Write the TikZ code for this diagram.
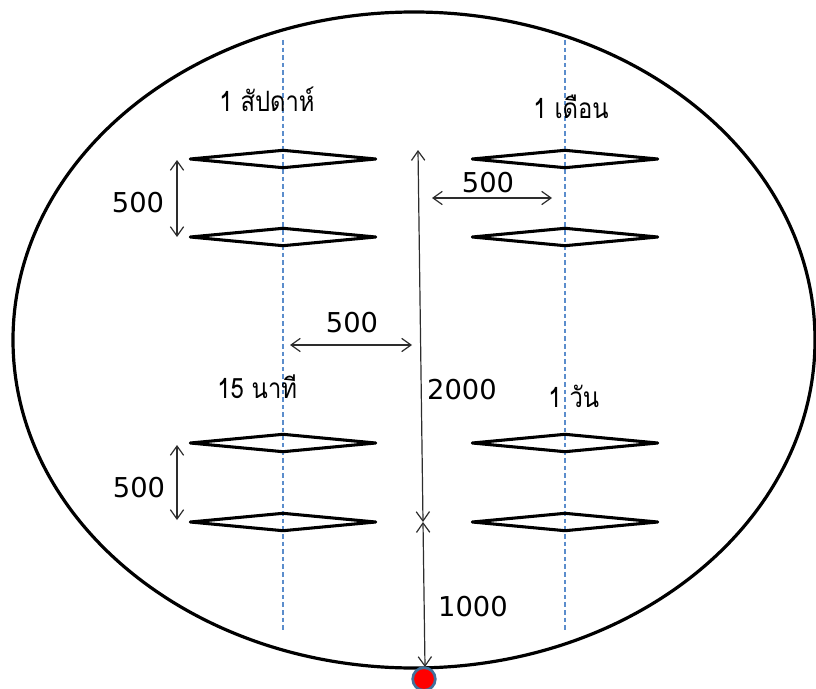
\documentclass[tikz,border=0pt]{standalone}
\usepackage{fontspec}
\setmainfont{DejaVu Sans}
\newfontfamily\thaifont[Script=Thai,FakeStretch=0.85]{Loma}
\usetikzlibrary{shapes.geometric,arrows.meta}
\definecolor{guideblue}{RGB}{91,141,204}
\definecolor{rimblue}{RGB}{65,113,156}
\definecolor{dimgray}{RGB}{45,45,45}

\begin{document}
\begin{tikzpicture}[x=0.75pt,y=-0.75pt,
    flake/.style={draw,shape=diamond,line width=2.3pt,line join=round,inner sep=0pt,minimum width=140pt,minimum height=14pt},
    guide/.style={guideblue,line width=1pt,dash pattern=on 3.5pt off 2.2pt},
    dim/.style={dimgray,line width=0.9pt,{Straight Barb[length=7pt,width=10pt]}-{Straight Barb[length=7pt,width=10pt]}},
    num/.style={font=\fontsize{20.5}{24}\selectfont},
    tlabel/.style={anchor=base west,inner sep=0pt,font=\thaifont\fontsize{21}{24}\selectfont}]
  \useasboundingbox (0,0) rectangle (816,688);
  % outer boundary and the marker at its foot
  \draw[line width=2.4pt] (414,340) ellipse (401 and 328);
  \node[circle,fill=red,draw=rimblue,line width=2pt,minimum size=17pt,inner sep=0pt] (dot) at (424,679) {};
  % column guides
  \foreach \x in {283,565} \draw[guide] (\x,40) -- (\x,630);
  % the four pairs
  \node[flake] (w1) at (283,159) {};
  \node[flake] (w2) at (283,237) {};
  \node[flake] (m1) at (565,159) {};
  \node[flake] (m2) at (565,237) {};
  \node[flake] (q1) at (283,443) {};
  \node[flake] (q2) at (283,522) {};
  \node[flake] (d1) at (565,443) {};
  \node[flake] (d2) at (565,522) {};
  \node[tlabel] (wk) at (219,112) {1 สัปดาห์};
  \node[tlabel] (mo) at (533,118) {1 เดือน};
  \node[tlabel] (qt) at (217,398) {15 นาที};
  \node[tlabel] (dy) at (548,407) {1 วัน};
  % dimension lines
  \coordinate (wa) at (177,160); \coordinate (wb) at (177,237);
  \coordinate (qa) at (177,445); \coordinate (qb) at (177,520);
  \coordinate (ha) at (432,198); \coordinate (hb) at (552,198);
  \coordinate (ma) at (290,345); \coordinate (mb) at (412,345);
  \coordinate (top) at (418,150); \coordinate (mid) at (423,522);
  \coordinate (foot) at (425,667);
  \draw[dim] (wa) -- (wb);
  \draw[dim] (qa) -- (qb);
  \draw[dim] (ha) -- (hb);
  \draw[dim] (ma) -- (mb);
  \draw[dim] (top) -- (mid);
  \draw[dim] (mid) -- (foot);
  \node[num] at (138,203) {500};
  \node[num] at (139,488) {500};
  \node[num] at (488,183) {500};
  \node[num] at (352,323) {500};
  \node[num] at (462,390) {2000};
  \node[num] at (473,607) {1000};
\end{tikzpicture}
\end{document}
